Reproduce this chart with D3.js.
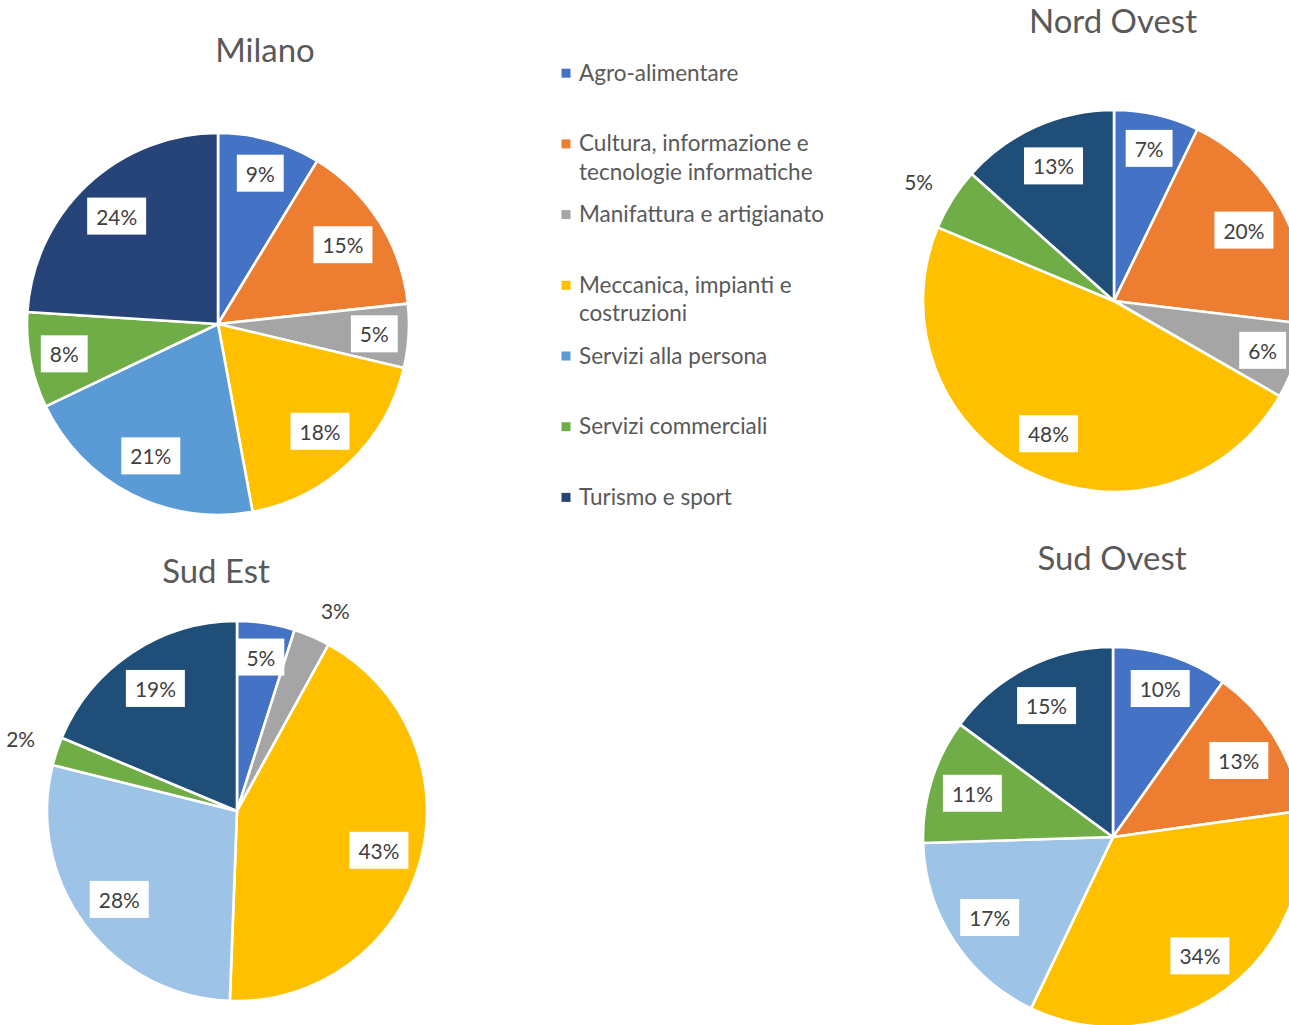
<!DOCTYPE html>
<html>
<head>
<meta charset="utf-8">
<script src="https://cdn.jsdelivr.net/npm/d3@7"></script>
<style>
html,body{margin:0;padding:0;background:#fff;}
svg{display:block;}
</style>
</head>
<body>
<svg id="chart" width="1289" height="1025"></svg>
<script>
// ---- data ----
const categories = [
  "Agro-alimentare",
  "Cultura, informazione e tecnologie informatiche",
  "Manifattura e artigianato",
  "Meccanica, impianti e costruzioni",
  "Servizi alla persona",
  "Servizi commerciali",
  "Turismo e sport"
];
const regions = ["Milano", "Nord Ovest", "Sud Est", "Sud Ovest"];
const milano    = [8.7, 14.6, 5.4, 18.4, 20.8, 8.1, 24.0];
const nordOvest = [7.2, 19.7, 6.4, 48.0, 0, 5.3, 13.4];
const sudEst    = [4.9, 0, 3.1, 42.6, 28.3, 2.4, 18.7];
const sudOvest  = [9.8, 13.0, 0, 34.3, 17.4, 10.6, 14.9];
const outsideMilano = [];
const outsideNordOvest = ["Servizi commerciali"];
const outsideSudEst = ["Manifattura e artigianato", "Servizi commerciali"];
const outsideSudOvest = [];

// ---- styles ----
const paletteMilano = ["#4472C4", "#ED7D31", "#A5A5A5", "#FFC000", "#5B9BD5", "#70AD47", "#264478"];
const paletteOther  = ["#4472C4", "#ED7D31", "#A5A5A5", "#FFC000", "#9DC3E6", "#70AD47", "#1F4E79"];
const FONT = "Lato, 'Open Sans', sans-serif";

const svg = d3.select("#chart");

function fitSize(text, targetWidth) {
  const t = svg.append("text").attr("font-family", FONT).attr("font-size", 100).text(text);
  const w = t.node().getComputedTextLength();
  t.remove();
  return 100 * targetWidth / w;
}
const titleSize = fitSize("Nord Ovest", 168);
const legendSize = fitSize("Manifattura e artigianato", 245);
const labelSize = fitSize("15%", 41);

const layouts = [
  {values: milano, outside: outsideMilano, palette: paletteMilano, cx: 218, cy: 324, r: 191, tx: 265, ty: 62},
  {values: nordOvest, outside: outsideNordOvest, palette: paletteOther, cx: 1114, cy: 301, r: 191, tx: 1113, ty: 33},
  {values: sudEst, outside: outsideSudEst, palette: paletteOther, cx: 237, cy: 811, r: 190, tx: 216, ty: 583},
  {values: sudOvest, outside: outsideSudOvest, palette: paletteOther, cx: 1113, cy: 837, r: 190, tx: 1112, ty: 570}
];

const pie = d3.pie().sort(null).value(d => d.value);

layouts.forEach((L, idx) => {
  const data = categories.map((c, i) => ({cat: c, value: L.values[i], idx: i}));
  const total = d3.sum(data, d => d.value);
  const arcs = pie(data);
  const arc = d3.arc().innerRadius(0).outerRadius(L.r);
  const bigArc = d3.arc().innerRadius(L.r * 0.775).outerRadius(L.r * 0.775);
  const smallArc = d3.arc().innerRadius(L.r * 0.82).outerRadius(L.r * 0.82);
  const outArc = d3.arc().innerRadius(L.r * 1.12).outerRadius(L.r * 1.12);
  const color = d3.scaleOrdinal().domain(categories).range(L.palette);

  const g = svg.append("g").attr("transform", `translate(${L.cx},${L.cy})`);
  g.selectAll("path.slice").data(arcs.filter(a => a.data.value > 0)).join("path")
    .attr("class", "slice")
    .attr("d", arc)
    .attr("fill", d => color(d.data.cat))
    .attr("stroke", "#fff")
    .attr("stroke-width", 2.6)
    .attr("stroke-linejoin", "round");

  arcs.filter(a => a.data.value > 0).forEach(a => {
    const share = a.data.value / total * 100;
    const pct = Math.round(share) + "%";
    if (L.outside.includes(a.data.cat)) {
      const [x, y] = outArc.centroid(a);
      g.append("text")
        .attr("x", x).attr("y", y - 5)
        .attr("text-anchor", x >= 0 ? "start" : "end")
        .attr("dominant-baseline", "central")
        .attr("font-family", FONT).attr("font-size", labelSize)
        .attr("fill", "#404040")
        .text(pct);
    } else {
      const [x, y] = (share >= 10 ? bigArc : smallArc).centroid(a);
      const lg = g.append("g").attr("transform", `translate(${x},${y})`);
      const t = lg.append("text")
        .attr("text-anchor", "middle")
        .attr("dominant-baseline", "central")
        .attr("font-family", FONT).attr("font-size", labelSize)
        .attr("fill", "#404040")
        .text(pct);
      const w = t.node().getComputedTextLength() + 18;
      const h = 37;
      lg.insert("rect", "text")
        .attr("x", -w / 2).attr("y", -h / 2)
        .attr("width", w).attr("height", h)
        .attr("fill", "#fff");
    }
  });

  svg.append("text")
    .attr("x", L.tx).attr("y", L.ty)
    .attr("text-anchor", "middle")
    .attr("font-family", FONT).attr("font-size", titleSize)
    .attr("fill", "#595959")
    .text(regions[idx]);
});

// ---- legend ----
const legendX = 566, legendY0 = 80.7, legendStep = 70.7, lineH = 28.6, wrapW = 250;
const legendColor = d3.scaleOrdinal().domain(categories).range(paletteMilano);
const lgd = svg.append("g");
categories.forEach((c, i) => {
  const y = legendY0 + i * legendStep;
  lgd.append("rect")
    .attr("x", legendX - 4.5).attr("y", y - 12)
    .attr("width", 9).attr("height", 9)
    .attr("fill", legendColor(c));
  const t = lgd.append("text")
    .attr("font-family", FONT).attr("font-size", legendSize)
    .attr("fill", "#595959");
  const words = c.split(" ");
  let line = [], lines = [];
  const probe = lgd.append("text").attr("font-family", FONT).attr("font-size", legendSize);
  words.forEach(wd => {
    const test = line.concat(wd).join(" ");
    probe.text(test);
    if (probe.node().getComputedTextLength() > wrapW && line.length) {
      lines.push(line.join(" "));
      line = [wd];
    } else line.push(wd);
  });
  lines.push(line.join(" "));
  probe.remove();
  lines.forEach((ln, k) => {
    t.append("tspan").attr("x", legendX + 13).attr("y", y + k * lineH).text(ln);
  });
});
</script>
</body>
</html>
